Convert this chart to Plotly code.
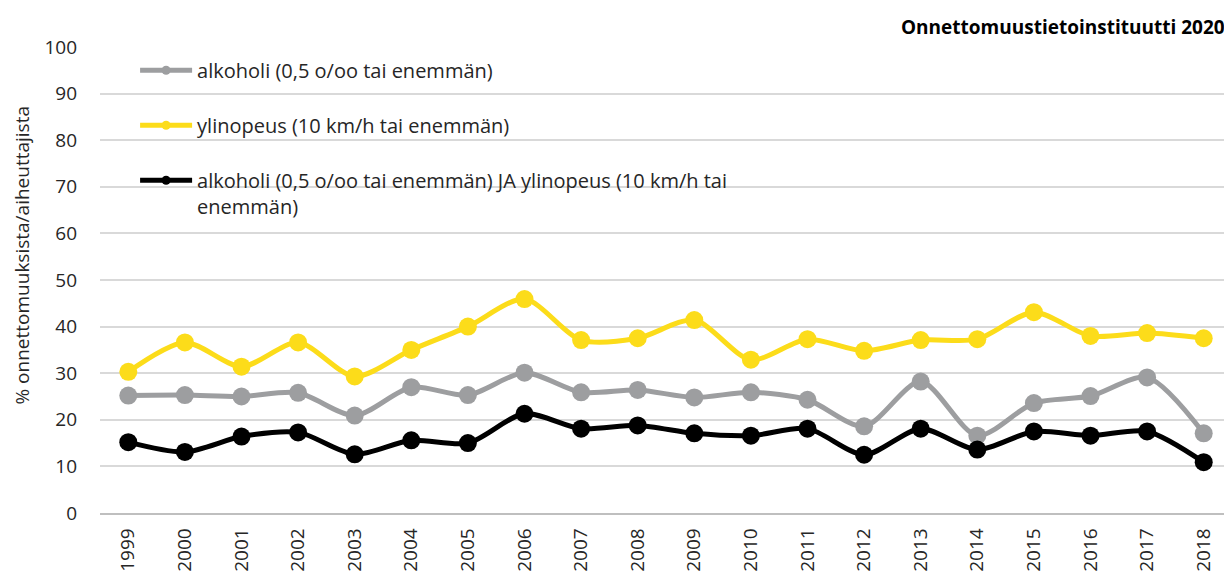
import plotly.graph_objects as go

years = [str(y) for y in range(1999, 2019)]
alkoholi = [25.2, 25.3, 25.0, 25.8, 20.9, 27.0, 25.3, 30.1, 25.9, 26.4,
            24.8, 25.9, 24.3, 18.6, 28.2, 16.6, 23.6, 25.1, 29.1, 17.1]
ylinopeus = [30.3, 36.6, 31.4, 36.6, 29.3, 35.0, 40.0, 45.9, 37.1, 37.5,
             41.4, 32.9, 37.3, 34.8, 37.1, 37.3, 43.1, 38.0, 38.6, 37.5]
molemmat = [15.2, 13.1, 16.4, 17.3, 12.6, 15.6, 15.0, 21.3, 18.1, 18.8,
            17.1, 16.6, 18.1, 12.5, 18.1, 13.6, 17.5, 16.6, 17.5, 10.9]

names = ["alkoholi (0,5 o/oo tai enemmän)",
         "ylinopeus (10 km/h tai enemmän)",
         "alkoholi (0,5 o/oo tai enemmän) JA ylinopeus (10 km/h tai<br>enemmän)"]
colors = ["#9D9EA0", "#FCDC1A", "#000000"]
series = [alkoholi, ylinopeus, molemmat]

FONT = "Open Sans"
TXT = "#262626"
fig = go.Figure()
for nm, col, vals in zip(names, colors, series):
    fig.add_trace(go.Scatter(
        x=years, y=vals, mode="lines+markers", name=nm,
        line=dict(color=col, width=5, shape="spline", smoothing=0.8),
        marker=dict(color=col, size=18),
        showlegend=False, hoverinfo="x+y"))
for i, (nm, col) in enumerate(zip(names, colors)):
    fig.add_trace(go.Scatter(
        x=[None], y=[None], mode="lines+markers", name=nm,
        line=dict(color=col, width=5), marker=dict(color=col, size=9),
        legendgroup=f"g{i}", showlegend=True))

# page body has an 8px margin: figure is sized/positioned to compensate
fig.update_layout(
    width=1224, height=566,
    margin=dict(l=92, r=0, t=39, b=61),
    paper_bgcolor="white", plot_bgcolor="white",
    font=dict(family=FONT, size=19, color=TXT),
    xaxis=dict(type="category", tickangle=-90, showgrid=False,
               showline=True, linecolor="#BFBFBF", linewidth=1.5,
               ticks="", range=[-0.5, 19.5], ticklabelstandoff=6,
               tickfont=dict(size=19, color=TXT)),
    yaxis=dict(range=[0, 100], dtick=10, showgrid=True, gridcolor="#D9D9D9",
               gridwidth=1.5, zeroline=False, ticks="", ticklabelstandoff=22,
               tickfont=dict(size=19, color=TXT)),
    legend=dict(x=0.031, y=0.992, xanchor="left", yanchor="top",
                bgcolor="rgba(0,0,0,0)", font=dict(size=20, color=TXT),
                tracegroupgap=26, valign="top", itemwidth=52),
    annotations=[
        dict(text="<b>Onnettomuustietoinstituutti 2020</b>",
             xref="paper", yref="paper", x=1.0, y=1.0,
             xanchor="right", yanchor="middle", yshift=20, xshift=-5,
             showarrow=False, font=dict(size=19, color="#000000")),
        dict(text="% onnettomuuksista/aiheuttajista",
             xref="paper", yref="paper", x=-0.0685, y=0.5535,
             xanchor="center", yanchor="middle", textangle=-90,
             showarrow=False, font=dict(size=19, color=TXT)),
    ],
)
fig.write_html("out.html")
